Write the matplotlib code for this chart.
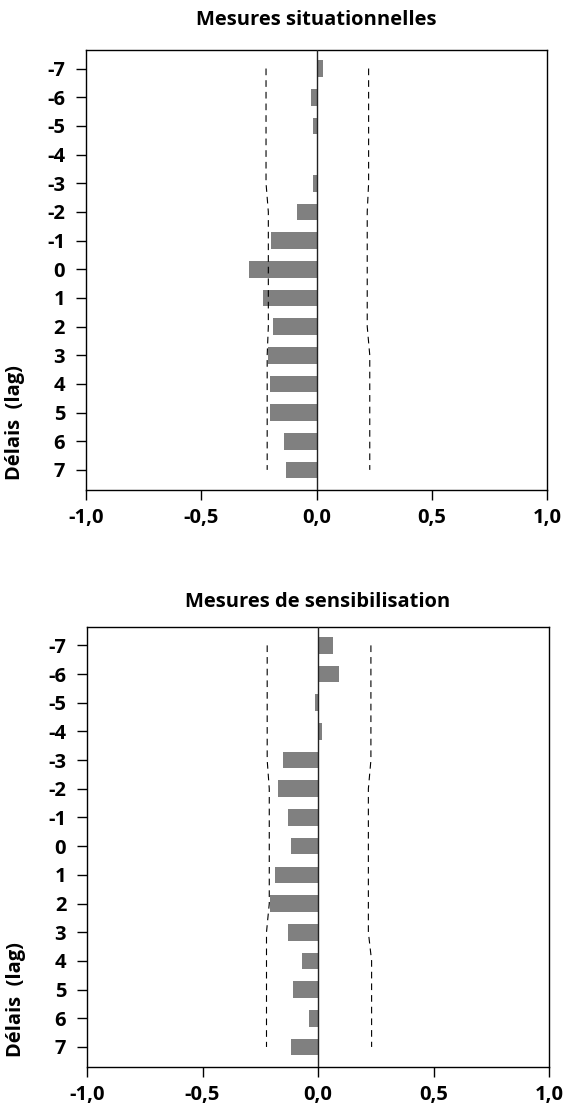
import numpy as np
import matplotlib
matplotlib.use('Agg')
from matplotlib import pyplot as plt

plt.rcParams['font.family'] = ['Open Sans', 'DejaVu Sans']
plt.rcParams['font.weight'] = 'bold'

lags = list(range(-7, 8))
lag_labels = [str(k) for k in lags]
x_ticks = [-1.0, -0.5, 0.0, 0.5, 1.0]
x_tick_labels = ['-1,0', '-0,5', '0,0', '0,5', '1,0']

titles = ['Mesures situationnelles', 'Mesures de sensibilisation']
ylabel = 'Délais  (lag)'

# cross-correlation per lag (-7 .. 7)
situ_ccf = [0.03, -0.025, -0.017, 0.0, -0.017, -0.086, -0.198, -0.295,
            -0.234, -0.19, -0.212, -0.203, -0.203, -0.142, -0.134]
situ_lower = [-0.219, -0.219, -0.219, -0.219, -0.219, -0.209, -0.209, -0.209,
              -0.209, -0.209, -0.214, -0.214, -0.214, -0.214, -0.214]
situ_upper = [0.226, 0.226, 0.226, 0.226, 0.226, 0.220, 0.220, 0.220,
              0.220, 0.220, 0.231, 0.231, 0.231, 0.231, 0.231]

sens_ccf = [0.066, 0.089, -0.014, 0.019, -0.153, -0.175, -0.131, -0.119,
            -0.187, -0.209, -0.131, -0.070, -0.109, -0.041, -0.119]
sens_lower = [-0.220, -0.220, -0.220, -0.220, -0.220, -0.211, -0.211, -0.211,
              -0.211, -0.211, -0.223, -0.223, -0.223, -0.223, -0.223]
sens_upper = [0.229, 0.229, 0.229, 0.229, 0.229, 0.218, 0.218, 0.218,
              0.218, 0.218, 0.218, 0.232, 0.232, 0.232, 0.232]

FS = 14.5


def draw_panel(ax, ccf, lower, upper, title, title_pad):
    ax.barh(lags, ccf, height=0.58, color='#808080', zorder=2)
    ax.axvline(0, color='#222222', lw=1.0, zorder=3)
    ax.plot(lower, lags, color='black', lw=0.8, linestyle=(0, (6, 4.5)), zorder=3)
    ax.plot(upper, lags, color='black', lw=0.8, linestyle=(0, (6, 4.5)), zorder=3)

    ax.set_xlim(-1, 1)
    ax.set_ylim(7.7, -7.65)
    ax.set_xticks(x_ticks)
    ax.set_xticklabels(x_tick_labels)
    ax.set_yticks(lags)
    ax.set_yticklabels(lag_labels)
    ax.tick_params(axis='both', labelsize=FS, length=7, width=1.0)
    ax.tick_params(axis='x', pad=6)
    ax.tick_params(axis='y', pad=8)
    for s in ax.spines.values():
        s.set_linewidth(1.0)

    ax.set_title(title, fontsize=FS, fontweight='bold', pad=title_pad)
    ax.set_ylabel(ylabel, fontsize=FS, fontweight='bold')
    ax.yaxis.set_label_coords(-0.154, 0.154)
    ax.yaxis.label.set_va('center')


fig = plt.figure(figsize=(5.65, 11.04), dpi=100)
ax1 = fig.add_axes([0.1522, 0.5562, 0.816, 0.3986])
ax2 = fig.add_axes([0.1540, 0.0335, 0.8177, 0.3988])

draw_panel(ax1, situ_ccf, situ_lower, situ_upper, titles[0], 18)
draw_panel(ax2, sens_ccf, sens_lower, sens_upper, titles[1], 14)

fig.savefig('out.png', dpi=100)
